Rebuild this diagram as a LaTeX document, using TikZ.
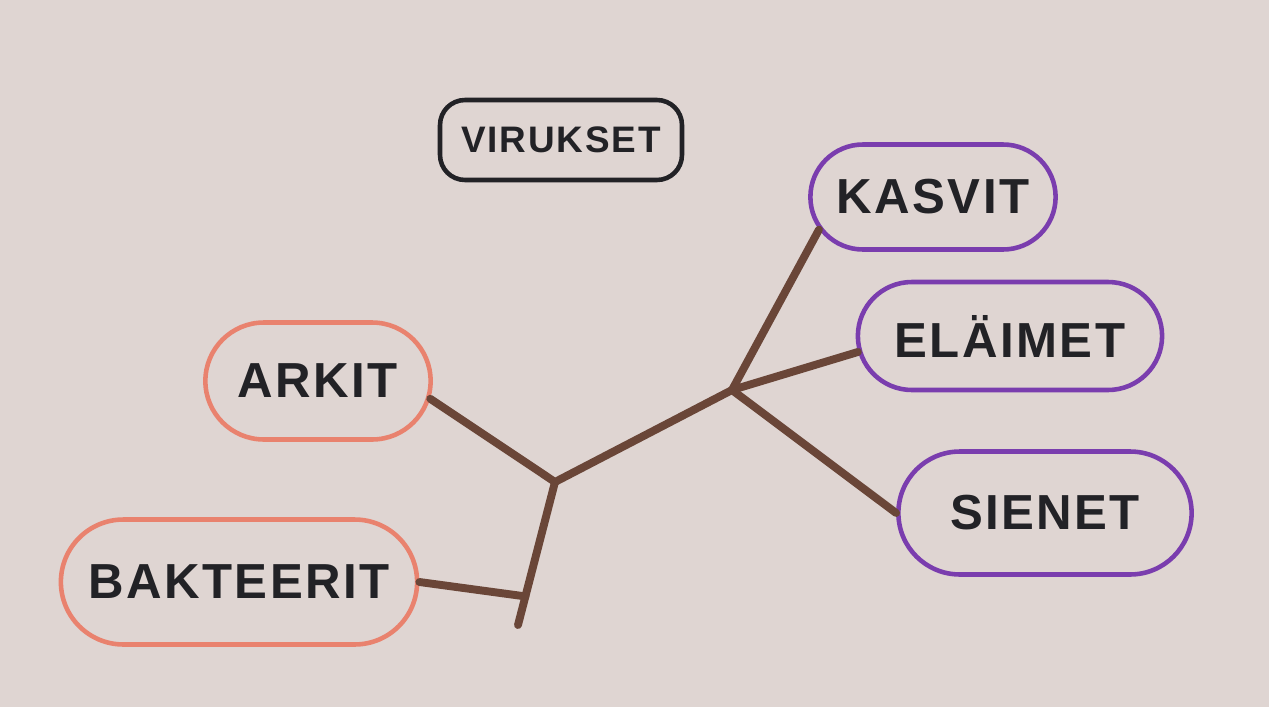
\documentclass[tikz,border=0pt]{standalone}
\usepackage{fontspec}
\setmainfont{Liberation Sans}[LetterSpace=5]
\usetikzlibrary{shapes.misc,calc}
\definecolor{paper}{HTML}{DFD5D2}
\definecolor{salmon}{HTML}{E9826E}
\definecolor{mpurple}{HTML}{7A3DAE}
\definecolor{bark}{HTML}{6A4638}
\definecolor{ink}{HTML}{222226}
\begin{document}
\begin{tikzpicture}[
  x=0.02cm, y=-0.02cm,
  oval/.style={rounded rectangle, draw, line width=2.6pt, text=ink, font=\bfseries\fontsize{28}{30}\selectfont},
  branch/.style={draw=bark, line width=4.5pt, line cap=round, line join=round}
]
\fill[paper] (0,0) rectangle (1269,707);
\useasboundingbox (0,0) rectangle (1269,707);

\node[draw=ink, line width=2.6pt, rounded corners=0.5cm, minimum width=4.84cm, minimum height=1.6cm,
  text=ink, font=\bfseries\fontsize{21}{24}\selectfont] (virukset) at (561,140) {VIRUKSET};

\node[oval, draw=mpurple, minimum width=5.14cm, minimum height=2.1cm] (kasvit) at (933,197) {KASVIT};
\node[oval, draw=mpurple, minimum width=6.32cm, minimum height=2.16cm] (elaimet) at (1010,336) {ELÄIMET};
\node[oval, draw=mpurple, minimum width=6.1cm, minimum height=2.46cm] (sienet) at (1045,513) {SIENET};
\node[oval, draw=salmon, minimum width=4.74cm, minimum height=2.34cm] (arkit) at (318,381) {ARKIT};
\node[oval, draw=salmon, minimum width=7.36cm, minimum height=2.5cm] (bakteerit) at (239,582) {BAKTEERIT};

% tree
\coordinate (root) at (555,482);
\coordinate (fork) at (732,390);
\coordinate (base) at (518,625);
\coordinate (joint) at ($(root)!0.8!(base)$);

\draw[branch] (arkit.-9) -- (root) -- (fork);
\draw[branch] (root) -- (base);
\draw[branch] (bakteerit.east) -- (joint);
\draw[branch] (fork) -- (kasvit.196);
\draw[branch] (fork) -- (elaimet.186);
\draw[branch] (fork) -- (sienet.west);
\end{tikzpicture}
\end{document}
